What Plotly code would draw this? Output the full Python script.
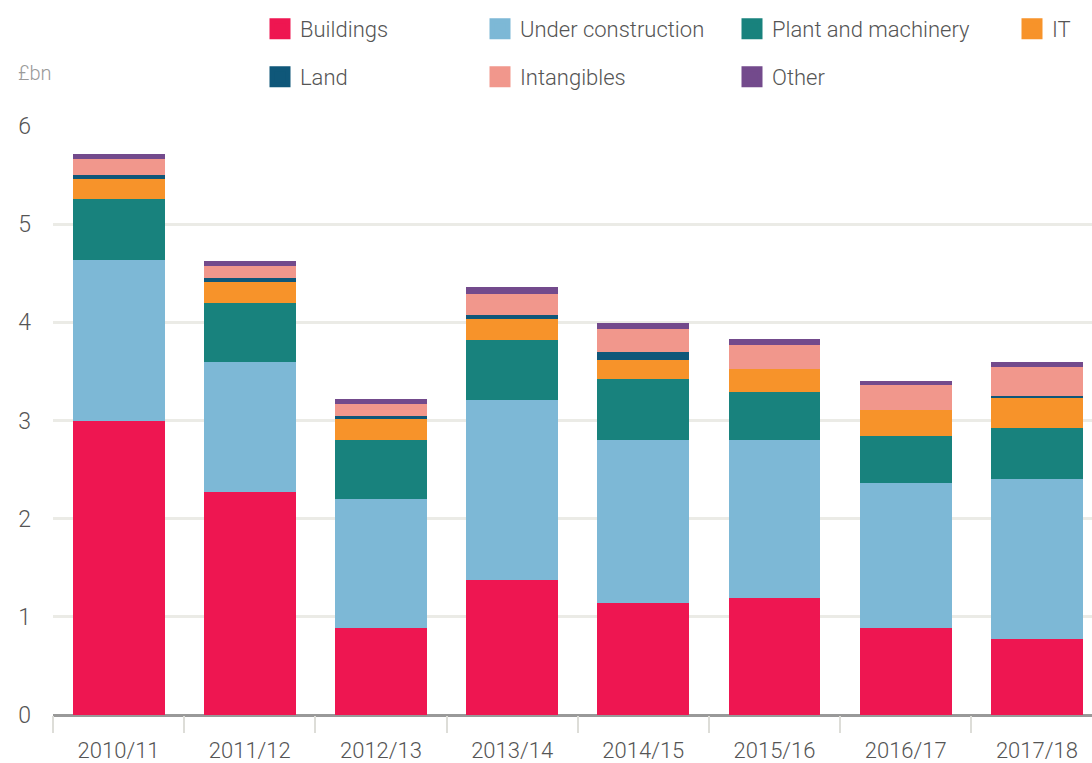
import plotly.graph_objects as go

years = ["2010/11", "2011/12", "2012/13", "2013/14", "2014/15", "2015/16", "2016/17", "2017/18"]

buildings = [2.99, 2.27, 0.89, 1.38, 1.14, 1.19, 0.89, 0.77]
under_construction = [1.64, 1.33, 1.31, 1.83, 1.66, 1.61, 1.47, 1.63]
plant_machinery = [0.63, 0.60, 0.60, 0.61, 0.62, 0.49, 0.48, 0.52]
it = [0.20, 0.21, 0.22, 0.21, 0.20, 0.23, 0.27, 0.31]
land = [0.04, 0.04, 0.03, 0.04, 0.08, 0.00, 0.00, 0.02]
intangibles = [0.16, 0.12, 0.12, 0.22, 0.23, 0.25, 0.25, 0.29]
other = [0.05, 0.05, 0.05, 0.07, 0.06, 0.06, 0.04, 0.06]

series_names = ["Buildings", "Under construction", "Plant and machinery", "IT", "Land", "Intangibles", "Other"]
series_values = [buildings, under_construction, plant_machinery, it, land, intangibles, other]
colors = ["#EE1651", "#7DB8D6", "#18827D", "#F7932A", "#0F5779", "#F1978C", "#734A8C"]

FONT = "Roboto"
TEXT = "#555555"

# plot-area geometry (px)
L, R, T, B = 53, 1092, 126, 715
W, H = R - L, B - T

def px_x(x):
    return (x - L) / W

def px_y(y):
    return (B - y) / H

# legend positions (square centre, px)
legend_pos = {
    "Buildings": (281, 29),
    "Under construction": (501, 29),
    "Plant and machinery": (753, 29),
    "IT": (1033, 29),
    "Land": (281, 77),
    "Intangibles": (501, 77),
    "Other": (753, 77),
}

fig = go.Figure()
for name, vals, col in zip(series_names, series_values, colors):
    fig.add_trace(go.Bar(
        x=years, y=vals, name=name, marker=dict(color=col, line=dict(width=0)),
        width=0.7, showlegend=False, hoverinfo="x+y+name",
    ))

legend_layout = {}
for i, (name, col) in enumerate(zip(series_names, colors)):
    key = "legend" if i == 0 else f"legend{i+1}"
    fig.add_trace(go.Scatter(
        x=[None], y=[None], mode="markers", name=name,
        marker=dict(symbol="square", size=16, color=col, line=dict(color=col, width=5)),
        legend=key, showlegend=True, hoverinfo="skip",
    ))
    cx, cy = legend_pos[name]
    legend_layout[key] = dict(
        x=px_x(cx - 21), y=px_y(cy), xanchor="left", yanchor="middle",
        orientation="v", itemsizing="trace", bgcolor="rgba(0,0,0,0)",
        borderwidth=0, font=dict(family=FONT, size=22, color=TEXT, weight=300),
        itemclick=False, itemdoubleclick=False,
    )

fig.update_layout(
    width=1092, height=763,
    margin=dict(l=L, r=1092 - R, t=T, b=763 - B, pad=0),
    barmode="stack", bargap=0.3,
    plot_bgcolor="white", paper_bgcolor="white",
    font=dict(family=FONT, size=22, color=TEXT, weight=300),
    xaxis=dict(
        type="category", range=[-0.5, 7.42], tickson="boundaries",
        ticks="outside", ticklen=17, tickwidth=2, tickcolor="#DDDDD8",
        showgrid=False, showline=False, zeroline=False,
        tickfont=dict(family=FONT, size=22, color=TEXT, weight=300),
        ticklabelstandoff=20,
    ),
    yaxis=dict(
        range=[0, 6], tickvals=[0, 1, 2, 3, 4, 5, 6], showgrid=True,
        gridcolor="#EBEBE6", gridwidth=3, zeroline=True, zerolinecolor="#999999",
        zerolinewidth=3, showline=False, ticks="",
        tickfont=dict(family=FONT, size=23, color=TEXT, weight=300),
        ticklabelstandoff=21,
    ),
    annotations=[dict(
        text="£bn", xref="paper", yref="paper", x=px_x(16), y=px_y(73),
        xanchor="left", yanchor="middle", showarrow=False,
        font=dict(family=FONT, size=20, color="#9A9A9A", weight=300),
    )],
    **legend_layout,
)

fig.write_html("out.html")
